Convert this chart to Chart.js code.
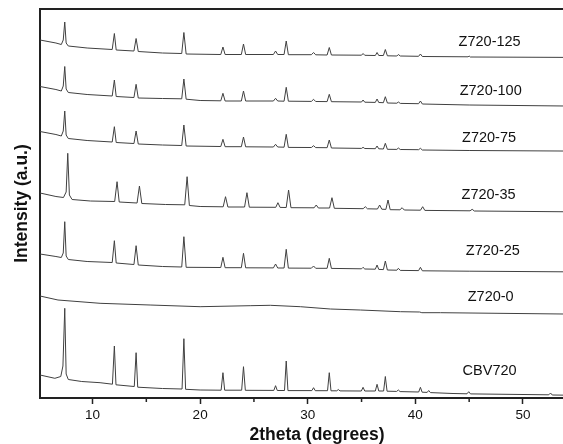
<!DOCTYPE html>
<html>
<head>
<meta charset="utf-8">
<script src="https://cdn.jsdelivr.net/npm/chart.js@4.4.1/dist/chart.umd.min.js"></script>
<style>
  body { margin: 0; overflow: hidden; background: #fff; }
  #wrap { position: relative; width: 594px; height: 444px; }
</style>
</head>
<body>
<div id="wrap"><canvas id="xrd"></canvas></div>
<script>
// Patrones XRD apilados: [2theta, intensidad desplazada]
const z720_125 = [[5.12, 358], [6.6, 355], [7.1, 353.5], [7.28, 358], [7.42, 376], [7.55, 355], [7.75, 352], [9.5, 350], [11.83, 348.5], [12.03, 364.5], [12.2, 348], [13.85, 347], [14.05, 359.5], [14.25, 346.5], [16.5, 345], [18.29, 344.5], [18.49, 365.5], [18.7, 344], [21.92, 343.5], [22.12, 351], [22.32, 343.5], [23.83, 343.5], [24.03, 354], [24.23, 343.5], [26.81, 343.5], [27.01, 347], [27.21, 343.5], [27.8, 343.5], [28.0, 357], [28.2, 343.3], [30.34, 343.3], [30.54, 345.5], [30.74, 343.2], [31.8, 343], [32.0, 350.5], [32.2, 343], [35.0, 342.8], [35.14, 344.5], [35.3, 342.7], [36.28, 342.5], [36.44, 345.5], [36.6, 342.5], [37.03, 342.5], [37.21, 348.5], [37.4, 342.2], [38.28, 342], [38.42, 343.5], [38.6, 342], [40.3, 341.7], [40.47, 344], [40.65, 341.5], [44.9, 341.2], [45.0, 342], [45.1, 341], [56.6, 340.5]];
const z720_100 = [[5.12, 311.5], [6.6, 308.5], [7.1, 307], [7.28, 312], [7.42, 331.5], [7.55, 309], [7.75, 305.5], [9.5, 303.5], [11.83, 302], [12.03, 318], [12.2, 301.5], [13.85, 300.5], [14.05, 313.7], [14.25, 300], [16.5, 299.5], [18.29, 299.2], [18.49, 319], [18.7, 298.8], [20.0, 297.5], [21.92, 297.2], [22.12, 304.7], [22.32, 297], [23.83, 297], [24.03, 307], [24.23, 297], [26.81, 297], [27.01, 299.7], [27.21, 297], [27.8, 296.8], [28.0, 310.7], [28.2, 296.8], [30.34, 296.6], [30.54, 298.7], [30.74, 296.5], [31.8, 296.4], [32.0, 303.7], [32.2, 296.3], [35.0, 296], [35.14, 298], [35.3, 295.8], [36.28, 295.6], [36.44, 299], [36.6, 295.5], [37.03, 295.3], [37.21, 301.3], [37.4, 295], [38.28, 294.8], [38.42, 296], [38.6, 294.6], [40.3, 294.3], [40.47, 297], [40.65, 294], [45, 293], [56.6, 291.7]];
const z720_75 = [[5.12, 266.5], [6.6, 263.5], [7.1, 262], [7.28, 267], [7.42, 287], [7.55, 263], [7.75, 259.5], [9.5, 257.5], [11.83, 256], [12.03, 271.3], [12.2, 255.5], [13.85, 254.5], [14.05, 267], [14.25, 254], [16.5, 253], [18.29, 252.5], [18.49, 273], [18.7, 252], [21.92, 251.5], [22.12, 258.7], [22.32, 251.3], [23.83, 251.3], [24.03, 261], [24.23, 251.2], [26.81, 251], [27.01, 253.7], [27.21, 251], [27.8, 250.8], [28.0, 263.7], [28.2, 250.6], [30.34, 250.5], [30.54, 252.3], [30.74, 250.4], [31.8, 250.3], [32.0, 258], [32.2, 250], [35.0, 249.6], [35.14, 250.7], [35.3, 249.5], [36.28, 249.3], [36.44, 252], [36.6, 249.2], [37.03, 249], [37.21, 254.7], [37.4, 248.7], [38.28, 248.6], [38.42, 250], [38.6, 248.5], [40.3, 248.3], [40.47, 249.7], [40.65, 248], [45, 247.5], [56.6, 246.8]];
const z720_35 = [[5.12, 205], [6.6, 201.5], [7.3, 200.5], [7.55, 206], [7.7, 244.7], [7.85, 203], [8.1, 198.5], [9.8, 197], [12.06, 196.5], [12.28, 216.3], [12.48, 196], [14.14, 195], [14.36, 212], [14.58, 194.5], [16.8, 193.5], [18.57, 193.2], [18.79, 221.3], [19.0, 192.5], [20.0, 191.5], [22.14, 191.2], [22.36, 201.3], [22.58, 191], [24.13, 191], [24.35, 205.3], [24.57, 190.8], [27.03, 190.7], [27.23, 195.3], [27.43, 190.6], [28.0, 190.5], [28.22, 208], [28.44, 190.3], [30.59, 190.2], [30.79, 193], [30.99, 190], [32.03, 190], [32.25, 200.3], [32.47, 189.7], [35.15, 189.3], [35.35, 191.3], [35.55, 189.2], [36.48, 189], [36.68, 193], [36.88, 188.8], [37.26, 188.6], [37.46, 198], [37.66, 188.3], [38.57, 188.2], [38.77, 190.3], [38.97, 188], [40.48, 187.8], [40.68, 191.3], [40.88, 187.6], [45.08, 187.2], [45.28, 188.7], [45.48, 187], [56.6, 186]];
const z720_25 = [[5.12, 144], [6.6, 141.5], [7.1, 140.5], [7.28, 145], [7.42, 176.3], [7.55, 142], [7.75, 138.5], [9.5, 136.5], [11.83, 135.5], [12.03, 157.3], [12.2, 135], [13.85, 133.5], [14.05, 152.3], [14.25, 133], [16.5, 131.5], [18.29, 131], [18.49, 161.3], [18.7, 130.7], [21.92, 130.5], [22.12, 140.7], [22.32, 130.3], [23.83, 130.3], [24.03, 144.7], [24.23, 130.2], [26.81, 130.1], [27.01, 134], [27.21, 130], [27.8, 130], [28.0, 148.7], [28.2, 129.9], [30.34, 129.8], [30.54, 132], [30.74, 129.7], [31.8, 129.7], [32.0, 139.7], [32.2, 129.6], [35.0, 129.2], [35.14, 130.7], [35.3, 129], [36.28, 128.8], [36.44, 133], [36.6, 128.6], [37.03, 128.4], [37.21, 137], [37.4, 128], [38.28, 127.8], [38.42, 129.7], [38.6, 127.6], [40.3, 127.4], [40.47, 130.7], [40.65, 127.2], [45, 126.8], [56.6, 126]];
const z720_0 = [[5.12, 102], [6.79, 98], [10.7, 94.7], [15.35, 93], [20.0, 91.3], [24.65, 92.3], [26.52, 92.7], [29.31, 91.3], [32.1, 89], [34.89, 88], [38.61, 86.3], [40.4, 86], [40.6, 85.3], [42.33, 85.3], [53.77, 84], [56.6, 83.7]];
const cbv720 = [[5.12, 23], [6.5, 19.7], [7.05, 21.5], [7.25, 32], [7.42, 89.7], [7.55, 24], [7.75, 18.5], [9.0, 16.5], [10.7, 15.3], [11.85, 13.8], [12.03, 52], [12.18, 13.2], [13.88, 11.5], [14.05, 45.3], [14.2, 10.8], [16.5, 9.5], [18.32, 9], [18.49, 59.3], [18.65, 8.7], [20.0, 8], [21.95, 7.8], [22.12, 25.3], [22.28, 7.8], [23.86, 7.8], [24.03, 31.3], [24.2, 7.7], [26.85, 7.6], [27.01, 12.3], [27.17, 7.5], [27.84, 7.5], [28.0, 37], [28.16, 7.4], [30.38, 7.4], [30.54, 10.3], [30.7, 7.3], [31.84, 7.3], [32.0, 25.3], [32.16, 7.2], [32.7, 7.2], [32.84, 8.5], [33.0, 7.1], [34.98, 7], [35.14, 10.7], [35.3, 7], [36.28, 7], [36.44, 13.7], [36.6, 7], [37.05, 7], [37.21, 21.5], [37.37, 6.8], [38.26, 6.6], [38.42, 8], [38.58, 6.4], [40.31, 6], [40.47, 10.7], [40.63, 5.8], [41.1, 5.6], [41.24, 7.5], [41.4, 5.4], [43.5, 4.5], [44.8, 4.2], [44.96, 6.3], [45.12, 4.1], [52.4, 3.2], [52.56, 5], [52.72, 3], [56.6, 2.5]];

const seriesNames = ["Z720-125", "Z720-100", "Z720-75", "Z720-35", "Z720-25", "Z720-0", "CBV720"];
const seriesData = [z720_125, z720_100, z720_75, z720_35, z720_25, z720_0, cbv720];
const xTickValues = [10, 15, 20, 25, 30, 35, 40, 45, 50, 55];

// Posicion de las etiquetas de cada patron (en unidades de los ejes)
const labelX = [46.9, 47.0, 46.85, 46.8, 47.2, 47.0, 46.9];
const labelY = [356, 307, 260.5, 203, 147, 101, 27.5];

const FONT = "'Liberation Sans', Arial, sans-serif";

const framePlugin = {
  id: "frame",
  afterDraw(chart) {
    const {ctx, chartArea, scales: {x}} = chart;
    ctx.save();
    ctx.strokeStyle = "#222";
    // linea superior del marco
    ctx.lineWidth = 2;
    ctx.beginPath();
    ctx.moveTo(chartArea.left - 1, chartArea.top);
    ctx.lineTo(chartArea.right, chartArea.top);
    ctx.stroke();
    // ticks menores del eje x
    ctx.lineWidth = 1.5;
    xTickValues.filter(v => v % 10 !== 0).forEach(v => {
      const px = x.getPixelForValue(v);
      ctx.beginPath();
      ctx.moveTo(px, chartArea.bottom);
      ctx.lineTo(px, chartArea.bottom + 4);
      ctx.stroke();
    });
    ctx.restore();
  }
};

const labelPlugin = {
  id: "seriesLabels",
  afterDatasetsDraw(chart) {
    const {ctx, scales: {x, y}} = chart;
    ctx.save();
    ctx.font = "14.5px " + FONT;
    ctx.fillStyle = "#111";
    ctx.textAlign = "center";
    ctx.textBaseline = "middle";
    seriesNames.forEach((name, i) => {
      ctx.fillText(name, x.getPixelForValue(labelX[i]), y.getPixelForValue(labelY[i]));
    });
    ctx.restore();
  }
};

new Chart(document.getElementById("xrd"), {
  type: "line",
  data: {
    datasets: seriesData.map((d, i) => ({
      label: seriesNames[i],
      data: d,
      borderColor: "#404040",
      borderWidth: 1,
      pointRadius: 0,
      tension: 0,
      fill: false
    }))
  },
  options: {
    responsive: true,
    maintainAspectRatio: false,
    animation: false,
    layout: {padding: {top: 9, left: 0, right: 0, bottom: 0}},
    plugins: {legend: {display: false}, tooltip: {enabled: false}},
    scales: {
      x: {
        type: "linear",
        min: 5.12,
        max: 56.6,
        afterBuildTicks: s => { s.ticks = xTickValues.map(v => ({value: v})); },
        afterFit: s => { s.height = 46; },
        ticks: {
          autoSkip: false,
          maxRotation: 0,
          padding: 3,
          color: "#111",
          font: {family: FONT, size: 13.5},
          callback: v => (v % 10 === 0 ? String(v) : "")
        },
        grid: {
          drawOnChartArea: false,
          drawTicks: true,
          tickLength: 6,
          tickWidth: 1.5,
          tickColor: c => (c.tick && c.tick.value % 10 === 0 ? "#222" : "rgba(0,0,0,0)")
        },
        border: {color: "#222", width: 2},
        title: {
          display: true,
          text: "2theta (degrees)",
          color: "#111",
          font: {family: FONT, size: 17.5, weight: "bold", lineHeight: 1},
          padding: {top: 0, bottom: 0}
        }
      },
      y: {
        min: 0,
        max: 389,
        afterFit: s => { s.width = 40; },
        ticks: {display: false},
        grid: {display: false, drawTicks: false},
        border: {color: "#222", width: 2},
        title: {
          display: true,
          text: "Intensity (a.u.)",
          color: "#111",
          font: {family: FONT, size: 17.5, weight: "bold", lineHeight: 1},
          padding: {top: 13, bottom: 0}
        }
      }
    }
  },
  plugins: [framePlugin, labelPlugin]
});
</script>
</body>
</html>
